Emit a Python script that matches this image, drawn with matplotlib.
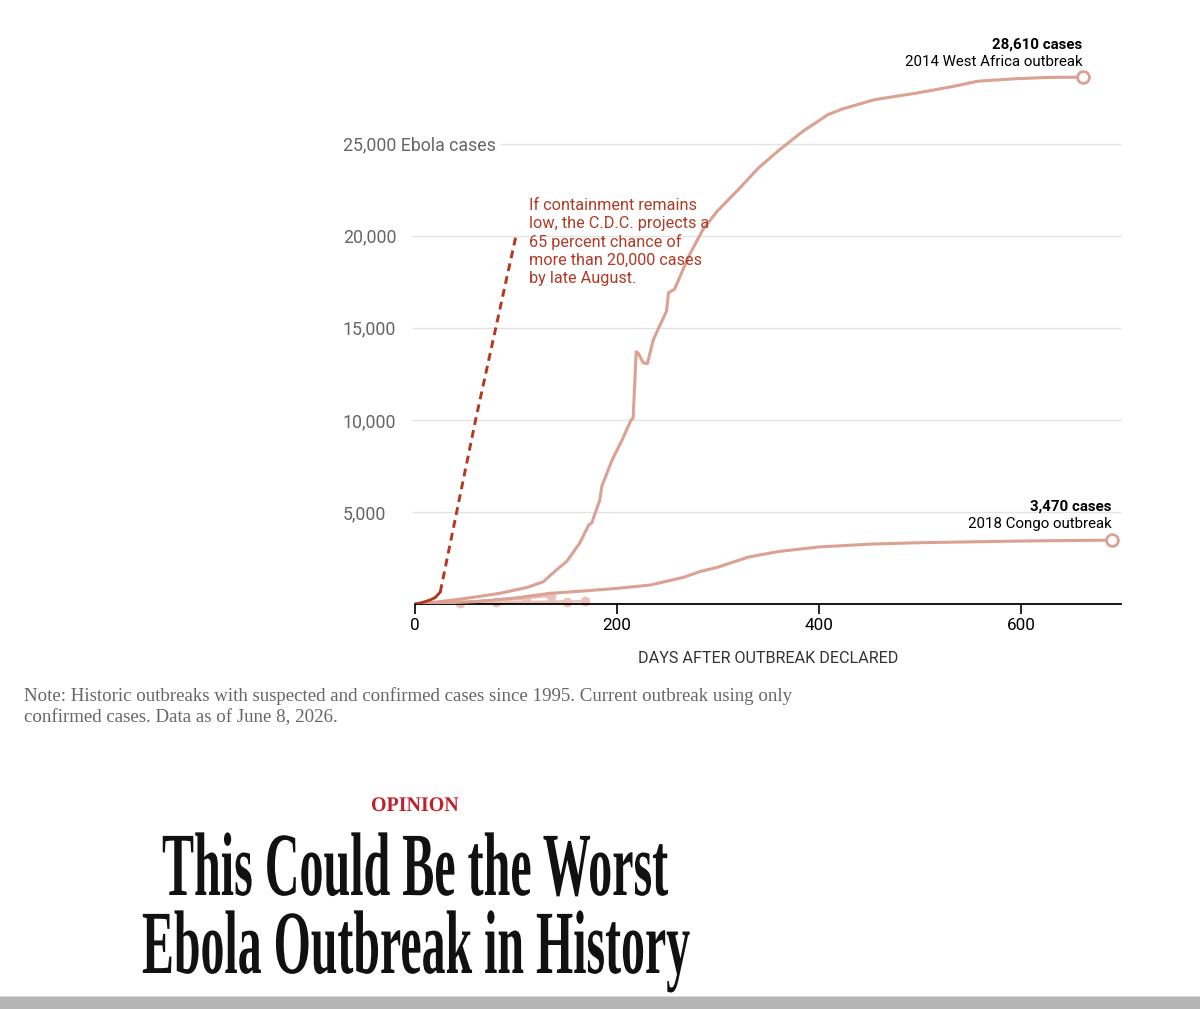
import matplotlib
matplotlib.use('Agg')
import matplotlib.pyplot as plt
from matplotlib import patheffects
from matplotlib.transforms import Affine2D, blended_transform_factory
from matplotlib.patches import Rectangle

# 2014 West Africa outbreak
wa_days = [0, 20, 51, 84, 111, 127, 140, 150, 163, 172, 175, 183, 185, 195, 205, 214, 216, 219, 221,
           226, 230, 236, 243, 249, 251, 257, 271, 285, 299, 320, 340, 361, 384, 409, 423, 455,
           497, 533, 557, 596, 630, 661]
wa_cases = [0, 100, 310, 580, 900, 1210, 1850, 2300, 3300, 4290, 4400, 5650, 6400, 7800, 8900, 10000,
            10100, 13700, 13620, 13100, 13050, 14350, 15200, 15900, 16900, 17100, 18880, 20330,
            21320, 22500, 23680, 24670, 25670, 26580, 26880, 27390, 27750, 28110, 28390, 28530,
            28600, 28610]

# 2018 Congo outbreak
congo_days = [0, 30, 60, 100, 134, 170, 200, 233, 266, 282, 300, 330, 360, 400, 450, 500, 600, 690]
congo_cases = [0, 60, 130, 330, 580, 720, 850, 1030, 1450, 1760, 2000, 2550, 2850, 3100, 3250,
               3330, 3420, 3470]

# current outbreak, confirmed cases and C.D.C. projection
cur_days = [0, 5, 10, 15, 20, 25]
cur_cases = [0, 50, 130, 220, 350, 650]
proj_days = [25, 60, 100]
proj_cases = [650, 10000, 20000]

# smaller historic outbreaks
small_days = [[0, 40, 80, 110, 135], [0, 30, 60, 90, 110], [0, 50, 100, 150],
              [0, 60, 120, 168], [0, 40, 80], [0, 20, 45]]
small_cases = [[0, 80, 200, 330, 430], [0, 60, 150, 230, 280], [0, 40, 90, 130],
               [0, 50, 110, 150], [0, 50, 90], [0, 20, 40]]

y_ticks = [5000, 10000, 15000, 20000, 25000]
y_labels = ['5,000', '10,000', '15,000', '20,000', '25,000 Ebola cases']
x_ticks = [0, 200, 400, 600]

LINE = '#dba193'
LIGHT = '#e9c3b9'
DARK = '#b3391f'
NOTE_RED = '#b03a25'

plt.rcParams['font.family'] = ['Roboto', 'DejaVu Sans']


class Squeeze(patheffects.AbstractPathEffect):
    def __init__(self, sx):
        super().__init__()
        self.sx = sx

    def draw_path(self, renderer, gc, tpath, affine, rgbFace=None):
        renderer.draw_path(gc, tpath, Affine2D().scale(self.sx, 1) + affine, rgbFace)


W, H = 1200, 1009
fig = plt.figure(figsize=(W / 100, H / 100), dpi=100)
ax = fig.add_axes([415 / W, 1 - 604 / H, (1121 - 415) / W, (604 - 70) / H])
ax.set_xlim(0, 699)
ax.set_ylim(0, 29000)

# gridlines
for yv in y_ticks:
    start = 84 if yv == 25000 else -3
    ax.hlines(yv, start, 699, color='#e3e3e3', lw=1, clip_on=False, zorder=0)

ytrans = blended_transform_factory(fig.transFigure, ax.transData)
for yv, lab in zip(y_ticks, y_labels):
    ax.text(343 / W, yv, lab, transform=ytrans, ha='left', va='center_baseline',
            fontsize=12.8, color='#666666')

for d, c in zip(small_days, small_cases):
    ax.plot(d, c, color=LIGHT, lw=1.8, solid_capstyle='round', zorder=2)
    ax.plot(d[-1], c[-1], 'o', color=LIGHT, ms=6, zorder=2, clip_on=False)

ax.plot(congo_days, congo_cases, color=LINE, lw=2.2, zorder=3)
ax.plot(congo_days[-1], congo_cases[-1], 'o', mfc='white', mec=LINE, mew=2, ms=8.5,
        zorder=5, clip_on=False)
ax.plot(wa_days, wa_cases, color=LINE, lw=2.2, zorder=3)
ax.plot(wa_days[-1], wa_cases[-1], 'o', mfc='white', mec=LINE, mew=2, ms=8.5,
        zorder=5, clip_on=False)

ax.plot(cur_days, cur_cases, color=DARK, lw=2.1, zorder=4)
ax.plot(proj_days, proj_cases, color=DARK, lw=2.1, ls=(0, (2.7, 1.8)), zorder=4)

ax.annotate('28,610 cases', (wa_days[-1], wa_cases[-1]), xytext=(0, 33),
            textcoords='offset pixels', ha='right', va='center', fontsize=10.8,
            fontweight='bold', color='black')
ax.annotate('2014 West Africa outbreak', (wa_days[-1], wa_cases[-1]), xytext=(0, 15),
            textcoords='offset pixels', ha='right', va='center', fontsize=10.8, color='black')
ax.annotate('3,470 cases', (congo_days[-1], congo_cases[-1]), xytext=(0, 34),
            textcoords='offset pixels', ha='right', va='center', fontsize=10.8,
            fontweight='bold', color='black')
ax.annotate('2018 Congo outbreak', (congo_days[-1], congo_cases[-1]), xytext=(0, 16),
            textcoords='offset pixels', ha='right', va='center', fontsize=10.8, color='black')

ax.text(113, 22030, 'If containment remains\nlow, the C.D.C. projects a\n65 percent chance of\n'
        'more than 20,000 cases\nby late August.', ha='left', va='top', fontsize=11.7,
        color=NOTE_RED, linespacing=1.24)

for s in ['left', 'top', 'right']:
    ax.spines[s].set_visible(False)
ax.spines['bottom'].set_linewidth(1.3)
ax.set_yticks([])
ax.set_xticks(x_ticks)
ax.tick_params(axis='x', length=7, width=1.2, labelsize=12.3, pad=3)
ax.set_xlabel('DAYS AFTER OUTBREAK DECLARED', fontsize=11.6, color='#333333', labelpad=13)

fig.text(24 / W, 1 - 687 / H, 'Note: Historic outbreaks with suspected and confirmed cases since '
         '1995. Current outbreak using only\nconfirmed cases. Data as of June 8, 2026.',
         ha='left', va='top', fontsize=13.6, color='#666666', linespacing=1.3,
         family=['Liberation Serif', 'DejaVu Serif'])

# headline
t_op = fig.text(371 / W, 1 - 811 / H, 'OPINION', ha='left', va='baseline', fontsize=15,
                fontweight='bold', color='#c0202a', family=['Liberation Serif'])
t1 = fig.text(162 / W, 1 - 895 / H, 'This Could Be the Worst', ha='left', va='baseline',
              fontsize=65, fontweight='bold', color='#111111', family=['Liberation Serif'])
t2 = fig.text(142 / W, 1 - 973 / H, 'Ebola Outbreak in History', ha='left', va='baseline',
              fontsize=65, fontweight='bold', color='#111111', family=['Liberation Serif'])

fig.canvas.draw()
r = fig.canvas.get_renderer()
for t, target in [(t_op, 88), (t1, 506), (t2, 548)]:
    w = t.get_window_extent(r).width
    t.set_path_effects([Squeeze(target / w)])

fig.patches.append(Rectangle((0, 0), 1, 12 / H, transform=fig.transFigure,
                             facecolor='#b4b4b4', edgecolor='none'))
fig.patches.append(Rectangle((0, 12 / H), 1, 1.5 / H, transform=fig.transFigure,
                             facecolor='#dcdcdc', edgecolor='none'))

fig.savefig('out.png', dpi=100)
